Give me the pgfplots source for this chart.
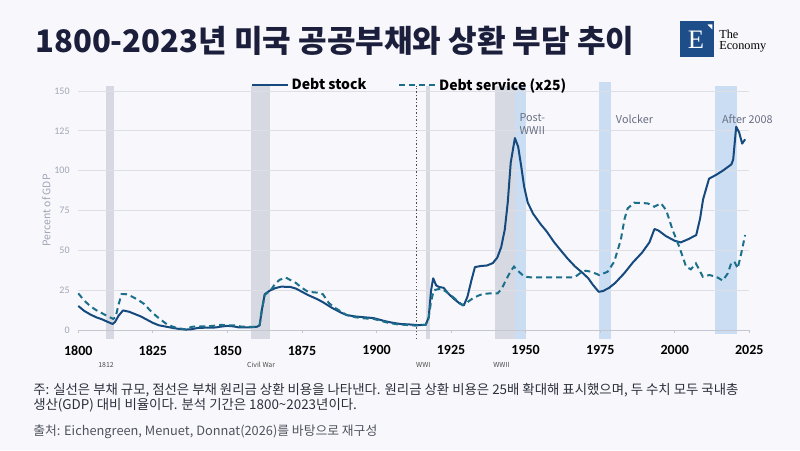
\documentclass[border=0pt]{standalone}
\usepackage{pgfplots}
\pgfplotsset{compat=1.18}
\usepackage{fontspec}
\setmainfont{Noto Sans CJK KR}
\newfontfamily\carlito{Carlito}
\newfontfamily\lserif{Liberation Serif}
\definecolor{bg}{RGB}{248,248,252}
\definecolor{titlec}{RGB}{27,31,59}
\definecolor{gridc}{RGB}{222,223,229}
\definecolor{basec}{RGB}{196,199,207}
\definecolor{bandgray}{RGB}{214,217,225}
\definecolor{bandblue}{RGB}{202,221,243}
\definecolor{stockc}{RGB}{22,74,126}
\definecolor{servc}{RGB}{27,111,138}
\definecolor{ytickc}{RGB}{160,166,182}
\definecolor{lblc}{RGB}{104,110,130}
\definecolor{notec}{RGB}{45,48,60}
\definecolor{srcc}{RGB}{80,83,94}
\definecolor{logoblue}{RGB}{29,78,137}

\pgfplotstableread{
x y
1800 15.1
1802 12
1804 9.8
1806 8
1808 6.7
1810 5
1811.5 3.8
1812.3 5
1813.5 9
1815 12.3
1817 11.5
1819 10
1821 8.5
1823 6.5
1825 4.5
1827 3
1830 1.9
1833 0.9
1836 0.3
1838 0.5
1840 1.3
1843 1.5
1846 1.6
1848 2.2
1850 2.6
1852 2.3
1854 1.6
1857 1.6
1860 2.1
1860.8 3
1861.5 12
1862.5 22.4
1864 24.5
1866 26.3
1868 27.2
1871 27.1
1873 26
1875 24
1877 22
1880 19.5
1882 17.5
1885 14
1888 11
1890 9.4
1893 8.5
1896 8
1899 7.5
1901 6.5
1903 5.5
1905 4.7
1908 3.8
1911 3.5
1914 3.1
1916.5 3.3
1917.5 8
1918.3 25
1919 32.5
1920 28
1921 27
1922.5 26.5
1924 23
1926 19.5
1928 16.5
1929.3 15.5
1930.5 21
1931.8 31
1933 39.5
1935 40.2
1937 40.5
1939 42
1940.5 45.5
1941.8 52
1943 63
1944 80
1945 105
1946.4 120.5
1947.5 115
1948.5 103
1949.5 90
1950.7 80
1952.5 73
1955 66.5
1957 62
1959.6 55
1962 49.5
1964 45
1966.5 40
1969 36
1971 32.5
1972.5 28.5
1974.5 24
1976 24.5
1978 26.5
1980 29.5
1983 35.5
1986 42.5
1989 48.5
1991.5 55
1993.2 63.4
1994.5 62.5
1997 59
2000 56
2002 55
2004.5 57
2007.2 59.6
2008.5 70
2009.5 82
2011.5 95
2014 97.5
2016.5 100.5
2019 104
2019.6 107
2020.6 127.6
2021.6 124
2022.6 117
2023.6 119.7
}\stock

\pgfplotstableread{
x y
1800 23
1802 18.5
1804 15
1806 12.5
1808 10.5
1810 8.5
1811.7 7
1812.5 8
1813.5 16
1814.5 22.5
1816 22.5
1818 21
1820 19
1822 16.5
1824 12.5
1826 9
1828 6
1830 3.2
1833 1.3
1836 0.4
1838 2
1840 2.4
1843 2.2
1846 2.8
1848 3.3
1850 2.8
1852 3
1855 2.1
1858 2
1860 2.1
1860.8 3
1861.5 12
1862.5 22
1864.5 25
1866 29
1867.5 31.5
1869.5 33
1871.5 31
1873 29.5
1875 26.5
1877 24
1880 23.5
1882 22.5
1884 17
1886 14
1890 9.4
1893 8
1896 7.3
1899 7
1901 6
1904 4.5
1907 3.6
1910 3.2
1913 2.8
1916.5 3.3
1917.5 8
1918.3 18
1919.2 25
1921.5 26
1923 24.5
1925 21.8
1927 18.5
1928.8 15.6
1930.5 17.5
1932.2 19.8
1934 21.5
1935.6 22.6
1938 23
1940.6 23
1942 26
1943.4 31.4
1945 37
1946.1 39.8
1947.5 37
1949.6 33.5
1952 33
1955 33
1960 33
1966.3 33
1968.5 36
1970.2 37.2
1972 36.6
1974.7 34.5
1977.5 36.6
1979.7 42.9
1981.9 56.5
1983.2 70
1984.2 76.3
1986.4 79.9
1990.9 79.5
1993.1 77.4
1995.4 79.5
1997.1 75.3
1999.3 62.8
2001.5 52.3
2003.8 39.8
2005.4 38.1
2007.1 41.8
2009.4 33.5
2011.6 34.5
2013.9 33.5
2016.1 31
2017.8 35.6
2018.9 41.8
2020 42.9
2021.1 38.7
2022.3 48.1
2023.6 59.6
}\serv

\begin{document}
\begin{tikzpicture}
\fill[bg] (0,0) rectangle (600pt,337.5pt);
\begin{scope}[shift={(0pt,337.5pt)},x=0.75pt,y=-0.75pt]
% title
\node[anchor=west,inner sep=0pt,text=titlec,font=\bfseries\fontsize{23.3}{27}\selectfont] at (35,40.5) {1800-2023년 미국 공공부채와 상환 부담 추이};
% logo
\fill[logoblue] (680,21) rectangle (714,57);
\fill[white] (707.5,24.5) -- (712.3,24.5) -- (712.3,29.5) -- cycle;
\node[text=white,inner sep=0pt,font=\lserif\fontsize{20}{20}\selectfont] at (696,40) {E};
\node[anchor=base west,inner sep=0pt,font=\lserif\fontsize{9.2}{10}\selectfont] at (719,38.6) {The};
\node[anchor=base west,inner sep=0pt,font=\lserif\fontsize{9.2}{10}\selectfont] at (719,49.3) {Economy};
% notes
\node[anchor=west,inner sep=0pt,text=notec,font=\fontsize{10.05}{12}\selectfont] at (33,390) {주: 실선은 부채 규모, 점선은 부채 원리금 상환 비용을 나타낸다. 원리금 상환 비용은 25배 확대해 표시했으며, 두 수치 모두 국내총};
\node[anchor=west,inner sep=0pt,text=notec,font=\fontsize{10.05}{12}\selectfont] at (33,405.5) {생산(GDP) 대비 비율이다. 분석 기간은 1800\textasciitilde 2023년이다.};
\node[anchor=west,inner sep=0pt,text=srcc,font=\fontsize{9.6}{11}\selectfont] at (33,432) {출처: Eichengreen, Menuet, Donnat(2026)를 바탕으로 재구성};
\end{scope}

\begin{axis}[
 at={(58.725pt,82.8pt)}, anchor=south west,
 scale only axis, width=503.25pt, height=193.6pt,
 xmin=1800, xmax=2025, ymin=-6, ymax=156,
 xtick={1800,1825,...,2025}, ytick={0,25,...,150},
 axis line style={draw=none}, tick style={draw=none},
 /pgf/number format/assume math mode=true,
 /pgf/number format/1000 sep={},
 xticklabel style={font=\carlito\bfseries\fontsize{10.5}{12}\selectfont, text=black, yshift=-1pt},
 yticklabel style={font=\carlito\fontsize{7.5}{9}\selectfont, text=ytickc, xshift=-3pt},
 ylabel={Percent of GDP},
 ylabel style={font=\fontsize{7.8}{9}\selectfont, text=ytickc, yshift=-4pt},
 clip=false,
 legend style={at={(0.257,0.985)}, anchor=west, draw=none, fill=none,
   font=\bfseries\fontsize{10.5}{12}\selectfont, text=black,
   /tikz/every even column/.append style={column sep=22pt}, inner sep=0pt},
 legend columns=2,
 legend image code/.code={\draw[#1] (0pt,0pt) -- (27pt,0pt);},
]
\fill[bandgray] (axis cs:1809.3,-5.6) rectangle (axis cs:1812,153.4);
\fill[bandgray] (axis cs:1858,-5.6) rectangle (axis cs:1864.3,153.4);
\fill[bandgray] (axis cs:1916.5,-5.6) rectangle (axis cs:1917.8,153.4);
\fill[bandgray] (axis cs:1939.6,-5.6) rectangle (axis cs:1946.3,153.4);
\fill[bandblue] (axis cs:1946.3,-5.6) rectangle (axis cs:1950,153.4);
\fill[bandblue] (axis cs:1974.7,-5.6) rectangle (axis cs:1978.6,155.5);
\fill[bandblue] (axis cs:2013.5,-2.5) rectangle (axis cs:2020.8,153.4);
\pgfplotsinvokeforeach{25,50,...,150}{\draw[gridc, line width=0.6pt] (axis cs:1800,#1) -- (axis cs:2025,#1);}
\draw[basec, line width=0.7pt] (axis cs:1800,0) -- (axis cs:2025,0);
\pgfplotsinvokeforeach{1800,1825,...,2025}{\draw[basec,line width=0.6pt] (axis cs:#1,0) -- ++(0pt,-2.5pt);}
\draw[black!70, line width=0.9pt, dash pattern=on 1pt off 1.6pt] (axis cs:1913.3,-5.6) -- (axis cs:1913.3,153.4);
\addplot[stockc, line width=1.5pt, line join=round] table[x=x,y=y] {\stock};
\addlegendentry{Debt stock}
\addplot[servc, line width=1.5pt, dash pattern=on 4.5pt off 3pt] table[x=x,y=y] {\serv};
\addlegendentry{Debt service (x25)}
% band labels
\node[anchor=north west, inner sep=0pt, align=left, text=lblc, font=\fontsize{8.1}{9.75}\selectfont] at (axis cs:1947.9,136) {Post-\\WWII};
\node[anchor=west, inner sep=0pt, text=lblc, font=\fontsize{8.1}{9.75}\selectfont] at (axis cs:1980.2,132.5) {Volcker};
\node[anchor=west, inner sep=0pt, text=lblc, font=\fontsize{8.1}{9.75}\selectfont] at (axis cs:2015.8,132.5) {After 2008};
\node[inner sep=0pt, text=black!70, font=\fontsize{5.2}{6}\selectfont] at (axis cs:1809.3,-22) {1812};
\node[inner sep=0pt, text=black!70, font=\fontsize{5.2}{6}\selectfont] at (axis cs:1861.3,-22) {Civil War};
\node[inner sep=0pt, text=black!70, font=\fontsize{5.2}{6}\selectfont] at (axis cs:1915.7,-22) {WWI};
\node[inner sep=0pt, text=black!70, font=\fontsize{5.2}{6}\selectfont] at (axis cs:1941.9,-22) {WWII};
\end{axis}
\pgfresetboundingbox
\useasboundingbox (0,0) rectangle (600pt,337.5pt);
\end{tikzpicture}
\end{document}
